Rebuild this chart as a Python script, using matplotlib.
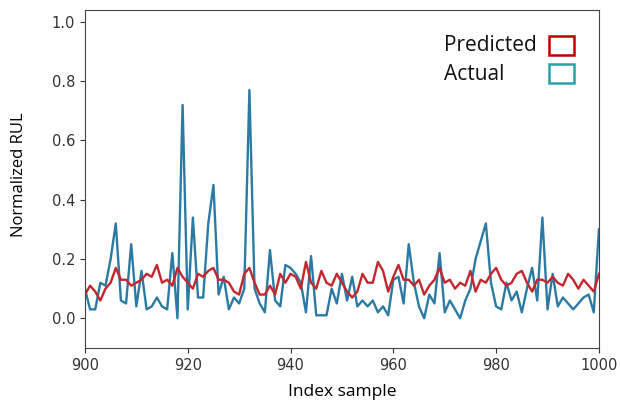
import numpy as np
import matplotlib.pyplot as plt
from matplotlib.patches import Rectangle

idx = np.arange(900, 1001)

actual = [0.10, 0.03, 0.03, 0.12, 0.11, 0.20, 0.32, 0.06, 0.05, 0.25,
          0.04, 0.16, 0.03, 0.04, 0.07, 0.04, 0.03, 0.22, 0.00, 0.72,
          0.03, 0.34, 0.07, 0.07, 0.32, 0.45, 0.08, 0.14, 0.03, 0.07,
          0.05, 0.10, 0.77, 0.10, 0.05, 0.02, 0.23, 0.06, 0.04, 0.18,
          0.17, 0.15, 0.12, 0.02, 0.21, 0.01, 0.01, 0.01, 0.10, 0.05,
          0.15, 0.06, 0.14, 0.04, 0.06, 0.04, 0.06, 0.02, 0.04, 0.01,
          0.13, 0.14, 0.05, 0.25, 0.12, 0.04, 0.00, 0.08, 0.05, 0.22,
          0.02, 0.06, 0.03, 0.00, 0.06, 0.10, 0.20, 0.26, 0.32, 0.12,
          0.04, 0.03, 0.12, 0.06, 0.09, 0.02, 0.10, 0.17, 0.06, 0.34,
          0.03, 0.15, 0.04, 0.07, 0.05, 0.03, 0.05, 0.07, 0.08, 0.02,
          0.30]

predicted = [0.08, 0.11, 0.09, 0.06, 0.10, 0.12, 0.17, 0.13, 0.13, 0.11,
             0.12, 0.13, 0.15, 0.14, 0.18, 0.12, 0.13, 0.11, 0.17, 0.14,
             0.12, 0.10, 0.15, 0.14, 0.16, 0.17, 0.13, 0.13, 0.12, 0.09,
             0.08, 0.15, 0.17, 0.12, 0.08, 0.08, 0.11, 0.08, 0.15, 0.12,
             0.15, 0.14, 0.10, 0.19, 0.12, 0.10, 0.16, 0.12, 0.11, 0.15,
             0.12, 0.09, 0.07, 0.09, 0.15, 0.12, 0.12, 0.19, 0.16, 0.09,
             0.14, 0.18, 0.13, 0.13, 0.11, 0.13, 0.08, 0.11, 0.13, 0.17,
             0.12, 0.13, 0.10, 0.12, 0.11, 0.16, 0.09, 0.13, 0.12, 0.15,
             0.17, 0.13, 0.11, 0.12, 0.15, 0.16, 0.12, 0.09, 0.13, 0.13,
             0.12, 0.14, 0.12, 0.11, 0.15, 0.13, 0.10, 0.13, 0.11, 0.09,
             0.15]

blue = '#2a7aa4'
red = '#c4262e'

fig = plt.figure(figsize=(6.2, 4.05), dpi=100)
ax = fig.add_axes([0.137, 0.141, 0.829, 0.834])

ax.plot(idx, actual, color=blue, lw=1.7)
ax.plot(idx, predicted, color=red, lw=1.7)

ax.set_xlim(900, 1000)
ax.set_ylim(-0.1, 1.04)
ax.set_xticks(range(900, 1001, 20))
ax.set_yticks(np.arange(0, 1.01, 0.2))
ax.tick_params(labelsize=10.5, colors='#333333')
for s in ax.spines.values():
    s.set_color('#444444')

fig.text(0.03, 0.57, 'Normalized RUL', rotation=90, ha='center', va='center',
         fontsize=12, family='Open Sans')
fig.text(0.552, 0.033, 'Index sample', ha='center', va='center',
         fontsize=12.5, family='Open Sans')

# hand-drawn style legend: text + outlined squares
fig.text(0.716, 0.888, 'Predicted', fontsize=15, family='Open Sans', va='center',
         color='#111111')
fig.text(0.716, 0.817, 'Actual', fontsize=15, family='Open Sans', va='center',
         color='#111111')
fig.patches.append(Rectangle((0.885, 0.865), 0.04, 0.047, fill=False,
                             edgecolor='#c00000', lw=1.8, transform=fig.transFigure))
fig.patches.append(Rectangle((0.885, 0.794), 0.04, 0.047, fill=False,
                             edgecolor='#2aa0a8', lw=1.8, transform=fig.transFigure))

fig.savefig('out.png', dpi=100)
